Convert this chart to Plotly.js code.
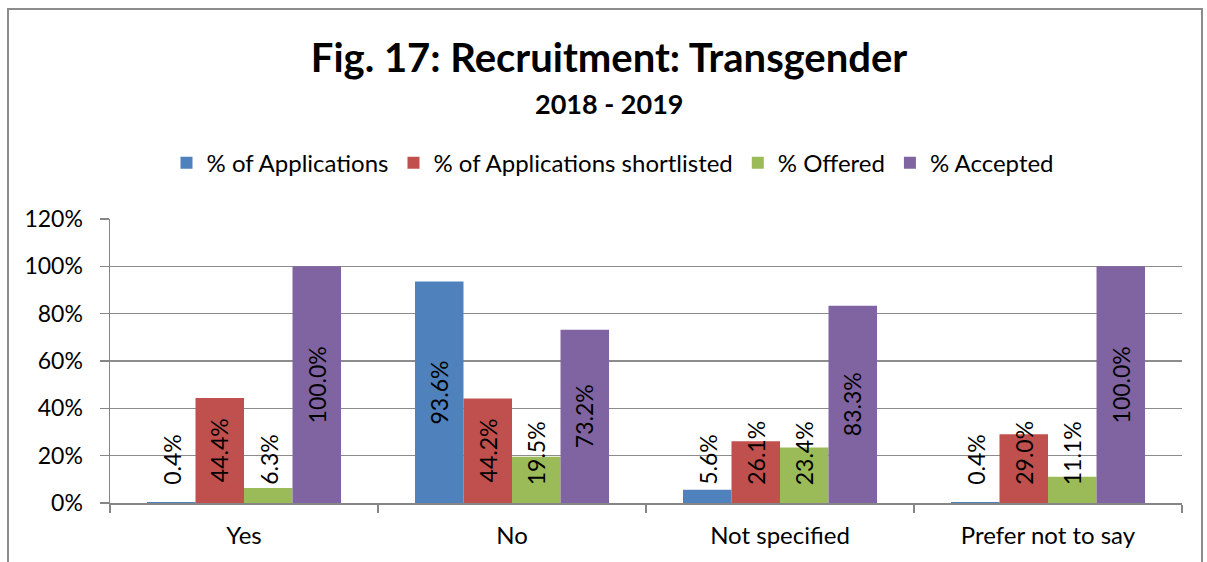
<!DOCTYPE html>
<html>
<head>
<meta charset="utf-8">
<script src="https://cdn.plot.ly/plotly-3.0.1.min.js"></script>
<style>
  html, body { margin: 0; padding: 0; background: #fff; overflow: hidden; }
  #wrap { position: relative; width: 1207px; height: 562px; }
  #frame { position: absolute; left: 7px; top: 8px; width: 1196px; height: 600px; border: 2px solid #8c8c8c; box-sizing: border-box; pointer-events: none; z-index: 5; }
  #chart { position: absolute; left: 0; top: 0; width: 1207px; height: 562px; }
</style>
</head>
<body>
<div id="wrap">
  <div id="chart"></div>
  <div id="frame"></div>
</div>
<script>
const categories = ['Yes', 'No', 'Not specified', 'Prefer not to say'];
const seriesNames = ['% of Applications', '% of Applications shortlisted', '% Offered', '% Accepted'];
const applications = [0.4, 93.6, 5.6, 0.4];
const shortlisted = [44.4, 44.2, 26.1, 29.0];
const offered = [6.3, 19.5, 23.4, 11.1];
const accepted = [100.0, 73.2, 83.3, 100.0];
const yTickVals = [0, 20, 40, 60, 80, 100, 120];

const seriesValues = [applications, shortlisted, offered, accepted];
const colors = ['#4F81BD', '#C0504D', '#9BBB59', '#8064A2'];
const FONT = 'Lato, "Open Sans", sans-serif';
const bargap = 0.276;

const traces = seriesValues.map((vals, j) => ({
  type: 'bar',
  name: seriesNames[j],
  x: categories,
  y: vals,
  marker: { color: colors[j], line: { width: 0 } },
  hoverinfo: 'x+y'
}));

const nS = seriesValues.length;
const barW = (1 - bargap) / nS;
const annotations = [];
seriesValues.forEach((vals, j) => {
  vals.forEach((v, i) => {
    const xpos = i + (j - (nS - 1) / 2) * barW;
    const big = v >= 40;
    annotations.push({
      x: xpos, xref: 'x',
      y: big ? v / 2 : 0, yref: 'y',
      yanchor: big ? 'middle' : 'bottom',
      xanchor: 'center',
      yshift: big ? 0 : 16,
      text: v.toFixed(1) + '%',
      textangle: -90,
      showarrow: false,
      font: { family: FONT, size: 23, color: '#000' }
    });
  });
});

annotations.push({
  text: '<b>2018 - 2019</b>',
  xref: 'paper', yref: 'paper', x: (609 - 110) / 1072, y: 1.408,
  xanchor: 'center', yanchor: 'middle', showarrow: false,
  font: { family: FONT, size: 27, color: '#000' }
});

const layout = {
  width: 1207, height: 562,
  margin: { l: 110, r: 25, t: 219, b: 59 },
  paper_bgcolor: '#fff', plot_bgcolor: '#fff',
  bargap: bargap, bargroupgap: 0, barmode: 'group',
  title: {
    text: '<b>Fig. 17: Recruitment: Transgender</b>',
    x: 609 / 1207, xanchor: 'center', xref: 'container',
    y: 1 - 58 / 562, yanchor: 'middle', yref: 'container',
    font: { family: FONT, size: 40, color: '#000' }
  },
  showlegend: true,
  legend: {
    orientation: 'h', x: (613 - 110) / 1072, xanchor: 'center', y: 1.197, yanchor: 'middle',
    font: { family: FONT, size: 24, color: '#000' },
    traceorder: 'normal', itemclick: false, itemdoubleclick: false
  },
  xaxis: {
    type: 'category',
    tickson: 'boundaries',
    ticks: 'outside', ticklen: 8, tickcolor: '#868686', tickwidth: 1.5,
    showline: true, linecolor: '#868686', linewidth: 1.5,
    showgrid: false,
    tickfont: { family: FONT, size: 24, color: '#000' },
    ticklabelstandoff: 11,
    fixedrange: true
  },
  yaxis: {
    range: [0, 120],
    tickvals: yTickVals,
    ticktext: yTickVals.map(v => v + '%'),
    ticks: 'outside', ticklen: 9, tickcolor: '#868686', tickwidth: 1.5,
    showline: true, linecolor: '#868686', linewidth: 1.5,
    showgrid: true, gridcolor: '#8c8c8c', gridwidth: 1.5,
    zeroline: false,
    tickfont: { family: FONT, size: 23, color: '#000' },
    ticklabelstandoff: 12,
    fixedrange: true
  },
  annotations: annotations
};

Plotly.newPlot('chart', traces, layout, { displayModeBar: false, staticPlot: true });
</script>
</body>
</html>
